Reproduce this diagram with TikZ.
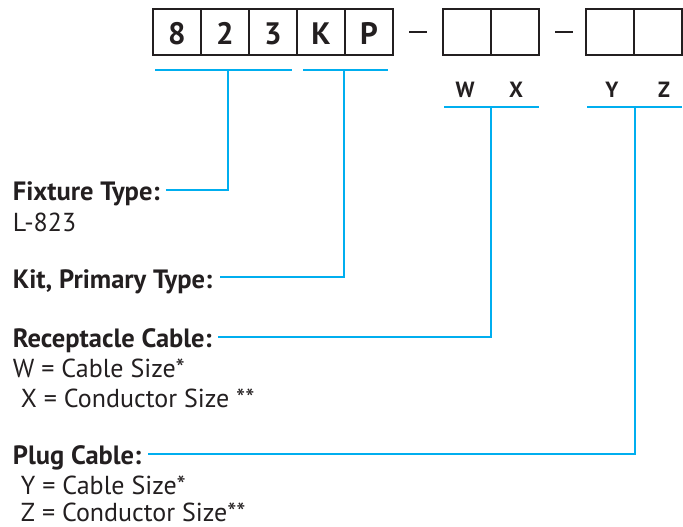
\documentclass[tikz,border=0pt]{standalone}
\usepackage{fontspec}
\setmainfont{PT Sans}
\usepackage{tikz}
\usetikzlibrary{calc}
\definecolor{ink}{HTML}{231F20}
\definecolor{leadblue}{HTML}{00AEEF}
\tikzset{>=latex}
\tikzset{
  cell/.style={draw=ink,line width=2pt,minimum width=48pt,minimum height=46pt,inner sep=0pt,outer sep=0pt,anchor=north west,text height=26pt,text depth=0pt,text=ink,font=\bfseries\fontsize{31}{31}\selectfont},
  lead/.style={draw=leadblue,line width=2.4pt},
  head/.style={anchor=base west,inner sep=0pt,text=ink,font=\bfseries\fontsize{26.5}{26.5}\selectfont},
  body/.style={anchor=base west,inner sep=0pt,text=ink,font=\fontsize{26}{26}\selectfont},
  letter/.style={anchor=base,inner sep=0pt,text=ink,font=\bfseries\fontsize{22}{22}\selectfont}
}
\begin{document}
\begin{tikzpicture}[x=1pt,y=-1pt]
  \useasboundingbox (0,0) rectangle (683,527);
  % Code boxes
  \foreach \ch [count=\i] in {8,2,3,K,P}
    \node[cell] (c\i) at (153+48*\i-48,9) {\ch};
  \node[cell] (w1) at (443,9) {};
  \node[cell] (w2) at (491,9) {};
  \node[cell] (y1) at (586,9) {};
  \node[cell] (y2) at (634,9) {};
  \draw[ink,line width=2pt] ($(c5.east)+(16,0)$) -- ++(18,0);
  \draw[ink,line width=2pt] ($(w2.east)+(16,0)$) -- ++(18,0);
  \node[letter] (lw) at (465,97) {W};
  \node[letter] (lx) at (516,97) {X};
  \node[letter] (ly) at (612,97) {Y};
  \node[letter] (lz) at (664,97) {Z};
  % Bars
  \coordinate (b1) at (228,70);
  \coordinate (b2) at (344,70);
  \coordinate (b3) at (491,107);
  \coordinate (b4) at (635,107);
  \draw[lead] (155,70) -- (292,70);
  \draw[lead] (303,70) -- (388,70);
  \draw[lead] (444,107) -- (539,107);
  \draw[lead] (587,107) -- (682,107);
  % Labels
  \node[head] (fix) at (12.7,200.7) {Fixture Type:};
  \node[body] (fixv) at (12.7,231) {L-823};
  \node[head] (kit) at (12.7,288) {Kit, Primary Type:};
  \node[head] (rec) at (12.7,347) {Receptacle Cable:};
  \node[body] (recw) at (12.7,377) {W = Cable Size*};
  \node[body] (recx) at (20.7,407) {X = Conductor Size **};
  \node[head] (plug) at (12.7,464) {Plug Cable:};
  \node[body] (plugy) at (20.7,494) {Y = Cable Size*};
  \node[body] (plugz) at (20.7,521.5) {Z = Conductor Size**};
  % Leaders
  \draw[lead] ($(fix.base east)+(6,-11)$) -| (b1);
  \draw[lead] ($(kit.base east)+(8,-11)$) -| (b2);
  \draw[lead] ($(rec.base east)+(6,-10)$) -| (b3);
  \draw[lead] ($(plug.base east)+(7,-10)$) -| (b4);
\end{tikzpicture}
\end{document}
